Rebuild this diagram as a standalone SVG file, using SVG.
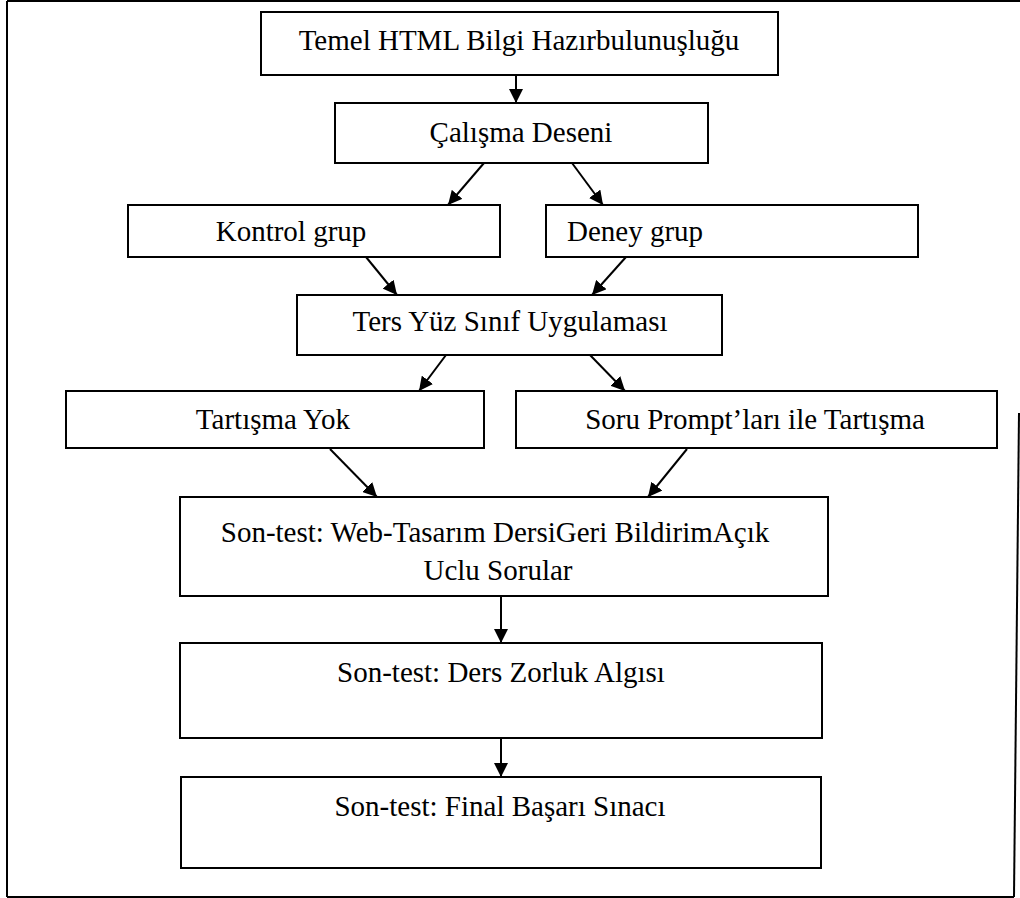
<svg xmlns="http://www.w3.org/2000/svg" width="1020" height="898" viewBox="0 0 1020 898">
<defs>
<style>
.box{fill:#fff;stroke:#000;stroke-width:2}
.t{font-family:"Liberation Serif","Times New Roman",serif;font-size:29px;fill:#000;text-anchor:middle}
.c{stroke:#000;stroke-width:2;fill:none}
.frame{stroke:#000;stroke-width:2;fill:none}
</style>
<marker id="ah" markerUnits="userSpaceOnUse" markerWidth="14" markerHeight="14" viewBox="0 0 14 14" refX="14" refY="7" orient="auto">
<path d="M0,0 L14,7 L0,14 Z" fill="#000"/>
</marker>
</defs>
<rect width="1020" height="898" fill="#fff"/>
<g id="frame">
<path class="frame" d="M7,1 H1020"/>
<path class="frame" d="M7,1 V897"/>
<path class="frame" d="M7,897 H1014"/>
<path class="frame" d="M1019,413 L1014,897" stroke-width="1.5"/>
</g>
<g id="n1"><rect class="box" x="261" y="12" width="517" height="63"/><text class="t" x="519" y="50">Temel HTML Bilgi Hazırbulunuşluğu</text></g>
<g id="n2"><rect class="box" x="335" y="103" width="373" height="60"/><text class="t" x="521" y="142">Çalışma Deseni</text></g>
<g id="n3"><rect class="box" x="128" y="205" width="372" height="52"/><text class="t" x="291" y="241">Kontrol grup</text></g>
<g id="n4"><rect class="box" x="546" y="205" width="372" height="52"/><text class="t" x="635" y="241">Deney grup</text></g>
<g id="n5"><rect class="box" x="297" y="295" width="425" height="60"/><text class="t" x="510" y="331">Ters Yüz Sınıf Uygulaması</text></g>
<g id="n6"><rect class="box" x="66" y="391" width="418" height="57"/><text class="t" x="273" y="429">Tartışma Yok</text></g>
<g id="n7"><rect class="box" x="516" y="391" width="481" height="57"/><text class="t" x="755" y="429">Soru Prompt’ları ile Tartışma</text></g>
<g id="n8"><rect class="box" x="180" y="497" width="648" height="99"/><text class="t" x="495" y="542">Son-test: Web-Tasarım DersiGeri BildirimAçık</text><text class="t" x="498" y="580">Uclu Sorular</text></g>
<g id="n9"><rect class="box" x="180" y="643" width="642" height="95"/><text class="t" x="501" y="682">Son-test: Ders Zorluk Algısı</text></g>
<g id="n10"><rect class="box" x="181" y="777" width="640" height="91"/><text class="t" x="500" y="816">Son-test: Final Başarı Sınacı</text></g>
<g id="connectors">
<line class="c" x1="516" y1="75" x2="516" y2="103" marker-end="url(#ah)"/>
<line class="c" x1="484" y1="163" x2="448" y2="205" marker-end="url(#ah)"/>
<line class="c" x1="572" y1="163" x2="603" y2="205" marker-end="url(#ah)"/>
<line class="c" x1="366" y1="257" x2="397" y2="295" marker-end="url(#ah)"/>
<line class="c" x1="626" y1="257" x2="592" y2="295" marker-end="url(#ah)"/>
<line class="c" x1="446" y1="355" x2="419" y2="391" marker-end="url(#ah)"/>
<line class="c" x1="590" y1="355" x2="625" y2="391" marker-end="url(#ah)"/>
<line class="c" x1="330" y1="449" x2="377" y2="497" marker-end="url(#ah)"/>
<line class="c" x1="687" y1="449" x2="648" y2="497" marker-end="url(#ah)"/>
<line class="c" x1="501" y1="596" x2="501" y2="643" marker-end="url(#ah)"/>
<line class="c" x1="501" y1="738" x2="501" y2="777" marker-end="url(#ah)"/>
</g>
</svg>
